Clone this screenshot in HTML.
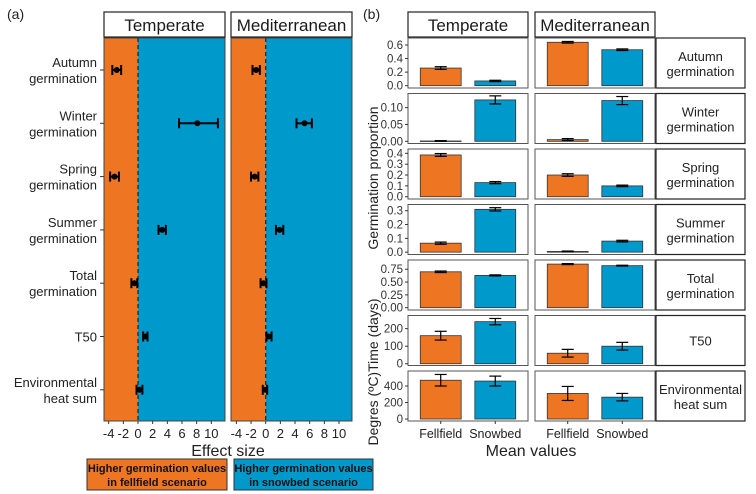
<!DOCTYPE html>
<html><head><meta charset="utf-8"><style>
html,body{margin:0;padding:0;background:#fff;}
svg{display:block;font-family:"Liberation Sans",Arial,sans-serif;}
</style></head><body>
<svg id="fig" width="756" height="494" viewBox="0 0 756 494" xmlns="http://www.w3.org/2000/svg"></svg>
<script>
// ---- Panel (a) data: effect sizes ----
const aRows = ["Autumn|germination","Winter|germination","Spring|germination","Summer|germination","Total|germination","T50","Environmental|heat sum"];
const aTempMean = [-2.9, 8.1, -3.2, 3.3, -0.5, 1.0, 0.2];
const aTempLo   = [-3.5, 5.6, -3.8, 2.8, -0.9, 0.7, -0.2];
const aTempHi   = [-2.3, 10.9, -2.6, 3.8, -0.1, 1.3, 0.6];
const aMedMean  = [-1.3, 5.3, -1.5, 1.9, -0.3, 0.4, -0.1];
const aMedLo    = [-1.8, 4.2, -2.0, 1.4, -0.7, 0.1, -0.4];
const aMedHi    = [-0.8, 6.3, -1.0, 2.4, 0.1, 0.8, 0.2];
const aTicks = [-4,-2,0,2,4,6,8,10];
// ---- Panel (b) data: mean values ----
const bCats = ["Fellfield","Snowbed"];
const bRowLabels = ["Autumn|germination","Winter|germination","Spring|germination","Summer|germination","Total|germination","T50","Environmental|heat sum"];
const bTempF = [0.26, 0.001, 0.385, 0.065, 0.70, 160, 470];
const bTempS = [0.07, 0.123, 0.13, 0.31, 0.63, 240, 460];
const bMedF  = [0.64, 0.005, 0.20, 0.005, 0.85, 60, 310];
const bMedS  = [0.53, 0.121, 0.10, 0.08, 0.82, 100, 265];
const bTempFErr = [0.02, 0.001, 0.013, 0.008, 0.015, 25, 70];
const bTempSErr = [0.01, 0.012, 0.01, 0.012, 0.01, 18, 60];
const bMedFErr  = [0.012, 0.003, 0.012, 0.003, 0.01, 22, 85];
const bMedSErr  = [0.012, 0.012, 0.007, 0.006, 0.008, 22, 45];
const bTickSets = [["0.0","0.2","0.4","0.6"],["0.00","0.05","0.10"],["0.0","0.1","0.2","0.3","0.4"],["0.0","0.1","0.2","0.3"],["0.00","0.25","0.50","0.75"],["0","100","200"],["0","200","400"]];
const bLo = [-0.034,-0.0065,-0.021,-0.017,-0.045,-10,-24];
const bHi = [0.703,0.142,0.44,0.345,0.93,275,582];

const ORANGE="#EE7623", BLUE="#0099CC";
const svg=document.getElementById('fig');
const NS="http://www.w3.org/2000/svg";
function mk(tag,attrs,parent){const e=document.createElementNS(NS,tag);for(const k in attrs)e.setAttribute(k,attrs[k]);(parent||svg).appendChild(e);return e;}
function txt(x,y,s,attrs,parent){const t=mk('text',Object.assign({x:x,y:y},attrs),parent);t.textContent=s;return t;}

// labels
let t=txt(7,19,"(a)",{"font-size":14,fill:"#222"});


t=txt(363,19,"(b)",{"font-size":14,fill:"#222"});



// ---- Panel (a) ----
const aTop=38, aBot=421, aRowY0=70, aRowStep=53.3;
const aPanels=[{x0:104,x1:225,name:"Temperate",m:aTempMean,lo:aTempLo,hi:aTempHi,zero:138},
               {x0:231,x1:352,name:"Mediterranean",m:aMedMean,lo:aMedLo,hi:aMedHi,zero:265.7}];
const aScale=7.33;
aPanels.forEach((p,pi)=>{
  const xs=v=>p.zero+v*aScale;
  const g=mk('g',{});
  
  
  let r=mk('rect',{x:p.x0,y:aTop,width:xs(0)-p.x0,height:aBot-aTop,fill:ORANGE},g);
  
  
  r=mk('rect',{x:xs(0),y:aTop,width:p.x1-xs(0),height:aBot-aTop,fill:BLUE},g);
  
  
  mk('line',{x1:xs(0),x2:xs(0),y1:aTop,y2:aBot,stroke:"#222","stroke-width":1.2,"stroke-dasharray":"4,3"},g);
  mk('rect',{x:p.x0,y:aTop,width:p.x1-p.x0,height:aBot-aTop,fill:"none",stroke:"#444","stroke-width":1},g);
  const st=mk('rect',{x:p.x0,y:12,width:p.x1-p.x0,height:25,fill:"#fff",stroke:"#222","stroke-width":1.2},g);
  
  
  txt((p.x0+p.x1)/2,31,p.name,{"font-size":17,"text-anchor":"middle",fill:"#1a1a1a"},g);
  p.m.forEach((v,i)=>{
    const y=aRowY0+i*aRowStep;
    const eg=mk('g',{},g);
    
    
    mk('line',{x1:xs(p.lo[i]),x2:xs(p.hi[i]),y1:y,y2:y,stroke:"#000","stroke-width":2},eg);
    mk('line',{x1:xs(p.lo[i]),x2:xs(p.lo[i]),y1:y-5,y2:y+5,stroke:"#000","stroke-width":2},eg);
    mk('line',{x1:xs(p.hi[i]),x2:xs(p.hi[i]),y1:y-5,y2:y+5,stroke:"#000","stroke-width":2},eg);
    mk('circle',{cx:xs(v),cy:y,r:3,fill:"#000"},eg);
  });
  aTicks.forEach(tk=>{
    mk('line',{x1:xs(tk),x2:xs(tk),y1:aBot,y2:aBot+3,stroke:"#333"},g);
    txt(xs(tk),438,String(tk),{"font-size":13,"text-anchor":"middle",fill:"#222"},g);
  });
});
aRows.forEach((lab,i)=>{
  const y=aRowY0+i*aRowStep;
  mk('line',{x1:100,x2:104,y1:y,y2:y,stroke:"#333"});
  const parts=lab.split("|");
  const tt=mk('text',{x:97,y:0,"font-size":13,"text-anchor":"end",fill:"#222"});
  
  
  if(parts.length===1){tt.setAttribute('y',y+5);tt.textContent=parts[0];}
  else parts.forEach((s,k)=>{const ts=mk('tspan',{x:97,y:y-3+k*16},tt);ts.textContent=s;});
});
t=txt(228,456,"Effect size",{"font-size":16,"text-anchor":"middle",fill:"#222"});


[[87,227,ORANGE,"in fellfield scenario","legend-fellfield"],[234,373,BLUE,"in snowbed scenario","legend-snowbed"]].forEach(b=>{
  const g=mk('g',{});
  
  
  mk('rect',{x:b[0],y:459,width:b[1]-b[0],height:31,fill:b[2],stroke:"#333","stroke-width":1},g);
  txt((b[0]+b[1])/2,472,"Higher germination values",{"font-size":11,"font-weight":"bold","text-anchor":"middle",fill:"#111"},g);
  txt((b[0]+b[1])/2,486,b[3],{"font-size":11,"font-weight":"bold","text-anchor":"middle",fill:"#111"},g);
});

// ---- Panel (b) ----
const bPanels=[{x0:408,x1:528,name:"Temperate",F:bTempF,S:bTempS,FE:bTempFErr,SE:bTempSErr},
               {x0:535,x1:655,name:"Mediterranean",F:bMedF,S:bMedS,FE:bMedFErr,SE:bMedSErr}];
const rowTop=i=>38+i*55.5, rowH=50;
bPanels.forEach(p=>{
  const unit=(p.x1-p.x0)/2.2;
  const xc=k=>p.x0+(0.6+k)*unit;
  const bw=0.75*unit;
  const st=mk('rect',{x:p.x0,y:12,width:p.x1-p.x0,height:25,fill:"#fff",stroke:"#222","stroke-width":1.2});
  
  
  txt((p.x0+p.x1)/2,31,p.name,{"font-size":17,"text-anchor":"middle",fill:"#1a1a1a"});
  for(let i=0;i<7;i++){
    const top=rowTop(i), bot=top+rowH;
    const ys=v=>bot-(v-bLo[i])/(bHi[i]-bLo[i])*rowH;
    const g=mk('g',{});
    
    
    mk('rect',{x:p.x0,y:top,width:p.x1-p.x0,height:rowH,fill:"#fff",stroke:"#555","stroke-width":1},g);
    [[p.F,p.FE,ORANGE,0],[p.S,p.SE,BLUE,1]].forEach(s=>{
      const v=s[0][i], e=s[1][i], cx=xc(s[3]);
      const br=mk('rect',{x:cx-bw/2,y:ys(v),width:bw,height:Math.max(0.5,ys(0)-ys(v)),fill:s[2],stroke:"#333","stroke-width":0.8},g);
      
      
      mk('line',{x1:cx,x2:cx,y1:ys(v-e),y2:ys(v+e),stroke:"#000","stroke-width":1.2},g);
      mk('line',{x1:cx-6,x2:cx+6,y1:ys(v-e),y2:ys(v-e),stroke:"#000","stroke-width":1.2},g);
      mk('line',{x1:cx-6,x2:cx+6,y1:ys(v+e),y2:ys(v+e),stroke:"#000","stroke-width":1.2},g);
    });
    if(p.name==="Temperate"){
      bTickSets[i].forEach(tk=>{
        const y=ys(parseFloat(tk));
        mk('line',{x1:p.x0-3,x2:p.x0,y1:y,y2:y,stroke:"#333"});
        txt(p.x0-5,y+4,tk,{"font-size":11.5,"text-anchor":"end",fill:"#333"});
      });
    }
    if(i===6){
      bCats.forEach((c,k)=>{
        mk('line',{x1:xc(k),x2:xc(k),y1:bot,y2:bot+3,stroke:"#333"});
        txt(xc(k),438,c,{"font-size":12.5,"text-anchor":"middle",fill:"#222"});
      });
    }
  }
});
bRowLabels.forEach((lab,i)=>{
  const top=rowTop(i);
  const g=mk('g',{});
  
  
  mk('rect',{x:656,y:top,width:89,height:rowH,fill:"#fff",stroke:"#222","stroke-width":1.2},g);
  const parts=lab.split("|");
  const cy=top+rowH/2;
  if(parts.length===1) txt(700.5,cy+5,parts[0],{"font-size":13,"text-anchor":"middle",fill:"#222"},g);
  else parts.forEach((s,k)=>txt(700.5,cy-2+k*15,s,{"font-size":13,"text-anchor":"middle",fill:"#222"},g));
});
t=txt(0,0,"Germination proportion",{"font-size":14,"text-anchor":"middle",fill:"#222",transform:"translate(378,178) rotate(-90)"});


t=txt(0,0,"Degres (ºC)Time (days)",{"font-size":14,"text-anchor":"middle",fill:"#222",transform:"translate(378,372) rotate(-90)"});


t=txt(531,456,"Mean values",{"font-size":16,"text-anchor":"middle",fill:"#222"});


</script>
</body></html>
